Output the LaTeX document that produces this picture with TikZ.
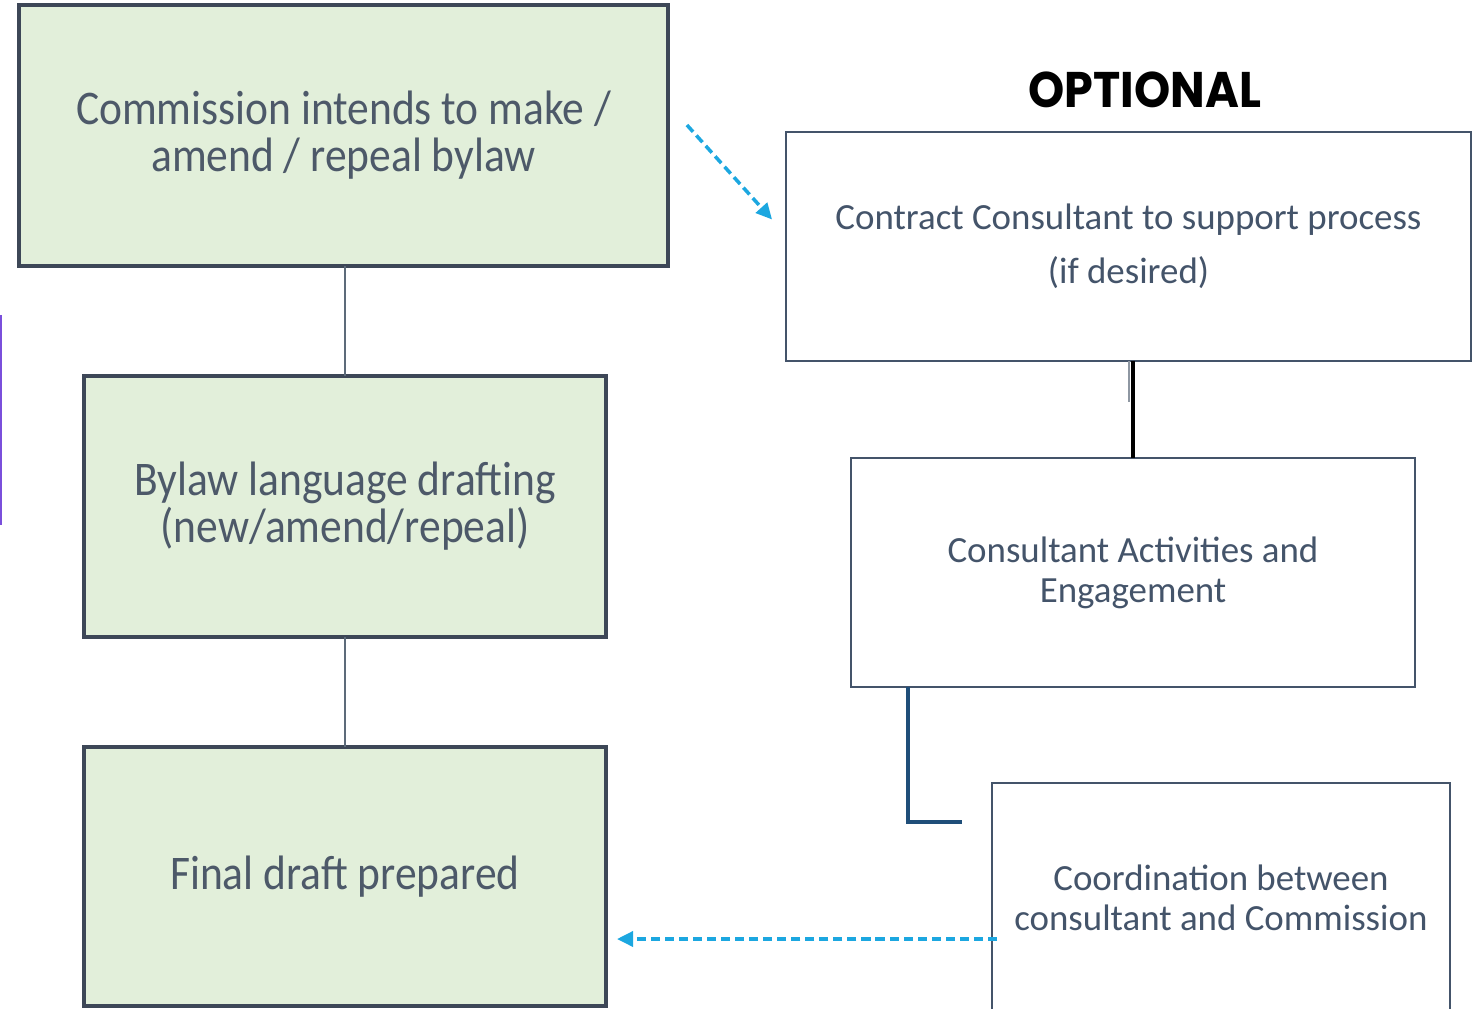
\documentclass[tikz,border=0pt]{standalone}
\usepackage{fontspec}
\setmainfont{Carlito}
\newfontfamily\narrowfont[FakeStretch=0.9]{Carlito}
\newfontfamily\gothicfont[FakeStretch=0.92]{Poppins}
\usetikzlibrary{arrows.meta,positioning}
\definecolor{bgreen}{HTML}{E2EFDA}
\definecolor{bslate}{HTML}{3D4757}
\definecolor{gtext}{HTML}{4D5969}
\definecolor{wslate}{HTML}{44546A}
\definecolor{optblue}{HTML}{1CA7E0}
\definecolor{linkgray}{HTML}{5D6B7A}
\definecolor{linknavy}{HTML}{1F4E79}
\definecolor{edgepurple}{HTML}{7A4FDB}

\begin{document}
\begin{tikzpicture}[x=0.02cm, y=-0.02cm, >={Triangle[length=0.32cm,width=0.3cm]},
  greenbox/.style={draw=bslate, fill=bgreen, line width=2.1pt, outer sep=0pt, align=center,
    text=gtext, font=\narrowfont\fontsize{27.5}{26.8}\selectfont},
  whitebox/.style={draw=wslate, fill=white, line width=1.4pt, outer sep=0pt, align=center,
    text=wslate, font=\fontsize{21}{22.7}\selectfont},
  optarrow/.style={->, optblue, line width=2pt, dash pattern=on 5.2pt off 2.8pt}]
  \useasboundingbox (0,0) rectangle (1481,1008);
  % main steps
  \node[greenbox, minimum width=12.98cm, minimum height=5.22cm] (commission) at (343.5,135.5)
    {Commission intends to make /\\amend / repeal bylaw};
  \node[greenbox, minimum width=10.44cm, minimum height=5.22cm, below=2.2cm of commission, xshift=0.03cm] (drafting)
    {Bylaw language drafting\\(new/amend/repeal)};
  \node[greenbox, minimum width=10.44cm, minimum height=5.18cm, below=2.2cm of drafting] (finaldraft)
    {Final draft prepared};
  \draw[linkgray, line width=1.4pt] (drafting.north |- commission.south) -- (drafting.north);
  \draw[linkgray, line width=1.4pt] (drafting.south) -- (finaldraft.north);
  % optional consultant branch
  \node[font=\gothicfont\bfseries\fontsize{28.5}{30}\selectfont] (optional) at (1145,90) {OPTIONAL};
  \node[whitebox, minimum width=13.7cm, minimum height=4.58cm,
    font=\fontsize{21}{31}\selectfont] (contract) at (1128.5,246.5)
    {Contract Consultant to support process\\(if desired)};
  \node[whitebox, minimum width=11.28cm, minimum height=4.58cm, below=1.94cm of contract, xshift=0.09cm] (activities)
    {Consultant Activities and\\Engagement};
  \node[whitebox, minimum width=9.16cm, minimum height=4.6cm, below=1.92cm of activities, xshift=1.76cm] (coordination)
    {Coordination between\\consultant and Commission};
  \coordinate (stub) at (1129,402);
  \coordinate (bend) at (962,822);
  \coordinate (back) at (617,939);
  \draw[black, line width=2.2pt] (activities.north |- contract.south) -- (activities.north);
  \draw[linkgray!70, line width=0.9pt] (stub |- contract.south) -- (stub);
  \draw[linknavy, line width=2.1pt] ([xshift=1.14cm]activities.south west) |- (bend);
  % dashed links
  \draw[optarrow] ([xshift=0.38cm, yshift=0.21cm]commission.east) -- ([xshift=-0.28cm, yshift=0.54cm]contract.west);
  \draw[optarrow] ([xshift=0.1cm]coordination.west |- back) -- (back);
  % edge mark
  \draw[edgepurple, line width=1.2pt] (0.5,315) -- (0.5,525);
\end{tikzpicture}
\end{document}
